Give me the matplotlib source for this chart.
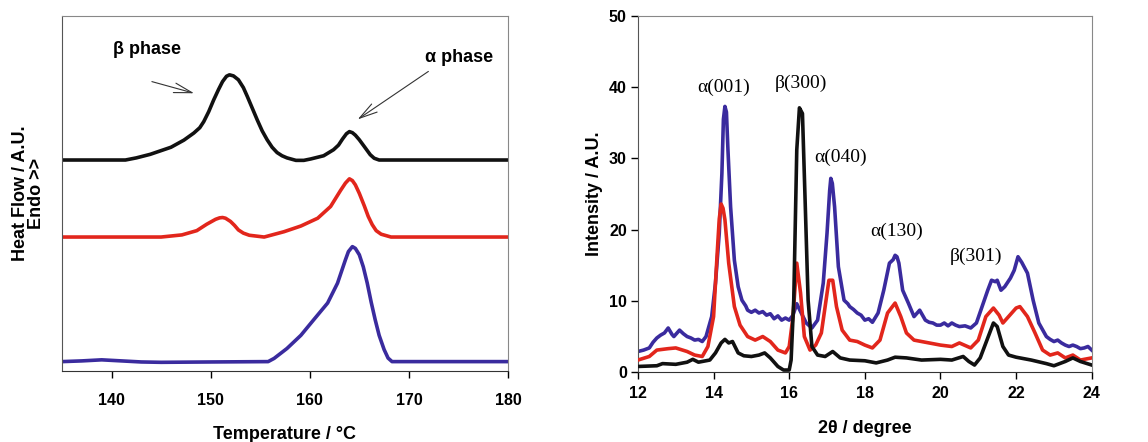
import numpy as np
import matplotlib
matplotlib.use("Agg")
import matplotlib.pyplot as plt

plt.rcParams['font.family'] = ['Liberation Sans', 'DejaVu Sans']

# DSC DATA (temperature in C, heat flow in arbitrary units, curves offset)
dsc_black_t = [135, 141.4, 142.5, 143.9, 146.0, 147.3, 148.3, 148.9, 149.3, 149.8,
               150.3, 150.8, 151.2, 151.6, 151.9, 152.3, 152.8, 153.3, 153.7, 154.2,
               154.7, 155.2, 155.7, 156.2, 156.7, 157.2, 157.7, 158.6, 159.4, 160.1,
               161.4, 162.4, 162.9, 163.3, 163.7, 164.0, 164.3, 164.6, 165.0, 165.5,
               166.1, 166.5, 167.0, 180]
dsc_black_v = [59.4, 59.4, 60.0, 61.0, 63.0, 65.0, 67.0, 68.5, 70.2, 73.0,
               76.3, 79.3, 81.5, 83.0, 83.4, 83.1, 82.0, 79.8, 77.3, 74.0,
               70.7, 67.6, 65.1, 63.0, 61.5, 60.6, 60.0, 59.3, 59.3, 59.7,
               60.6, 62.3, 63.6, 65.3, 66.8, 67.4, 67.1, 66.4, 65.1, 63.2,
               60.9, 59.9, 59.4, 59.4]

dsc_red_t = [135, 145.0, 147.1, 148.6, 149.6, 150.5, 150.9, 151.2, 151.5, 152.0,
             152.4, 152.8, 153.3, 153.9, 155.4, 157.4, 159.1, 160.8, 162.1, 163.1,
             163.6, 164.0, 164.3, 164.6, 165.0, 165.5, 165.9, 166.3, 166.7, 167.2,
             168.2, 180]
dsc_red_v = [37.7, 37.7, 38.3, 39.5, 41.3, 42.7, 43.1, 43.2, 43.0, 42.1,
             41.0, 39.7, 38.8, 38.2, 37.7, 39.2, 40.8, 43.0, 46.3, 50.8,
             52.9, 54.1, 53.6, 52.4, 50.0, 46.5, 43.5, 41.2, 39.5, 38.5,
             37.7, 37.7]

dsc_blue_t = [135, 137.0, 139.0, 141.0, 143.0, 145.0, 150.0, 155.8, 156.4, 157.7,
              159.1, 160.4, 161.8, 162.8, 163.6, 163.9, 164.3, 164.6, 165.0, 165.4,
              165.8, 166.2, 166.6, 167.0, 167.5, 167.9, 168.3, 180]
dsc_blue_v = [2.6, 2.8, 3.1, 2.8, 2.5, 2.4, 2.5, 2.6, 3.5, 6.3,
              10.0, 14.4, 19.1, 24.7, 31.3, 33.6, 35.0, 34.5, 32.7, 29.3,
              24.7, 19.3, 14.4, 10.0, 6.0, 3.6, 2.6, 2.6]

# XRD DATA (2theta in degree, intensity in A.U.)
xrd_blue_x = [12.0, 12.15, 12.3, 12.4, 12.5, 12.6, 12.7, 12.8, 12.9, 12.95,
              13.05, 13.1, 13.2, 13.3, 13.4, 13.5, 13.6, 13.7, 13.8, 13.95,
              14.05, 14.15, 14.22, 14.26, 14.3, 14.34, 14.38, 14.45, 14.55, 14.65,
              14.75, 14.85, 14.9, 15.0, 15.1, 15.2, 15.3, 15.4, 15.5, 15.6,
              15.7, 15.8, 15.9, 16.0, 16.1, 16.2, 16.3, 16.45, 16.6, 16.75,
              16.9, 17.0, 17.07, 17.1, 17.14, 17.2, 17.3, 17.45, 17.55, 17.6,
              17.7, 17.8, 17.9, 18.0, 18.1, 18.2, 18.35, 18.5, 18.65, 18.75,
              18.8, 18.85, 18.9, 19.0, 19.15, 19.3, 19.45, 19.6, 19.7, 19.8,
              19.9, 20.0, 20.1, 20.2, 20.3, 20.4, 20.5, 20.65, 20.8, 20.95,
              21.1, 21.25, 21.35, 21.45, 21.5, 21.6, 21.7, 21.85, 21.95, 22.05,
              22.15, 22.3, 22.45, 22.6, 22.8, 22.9, 23.0, 23.1, 23.2, 23.3,
              23.4, 23.5, 23.6, 23.7, 23.8, 23.9, 24.0]
xrd_blue_y = [2.9, 3.1, 3.4, 4.2, 4.8, 5.2, 5.5, 6.2, 5.3, 5.0,
              5.6, 5.9, 5.4, 5.0, 4.8, 4.5, 4.6, 4.3, 5.0, 7.8,
              12.5, 19.5, 27.9, 35.5, 37.3, 36.5, 31.2, 23.2, 15.7, 12.0,
              10.1, 9.3, 8.7, 8.4, 8.7, 8.3, 8.5, 8.0, 8.2, 7.5,
              7.9, 7.3, 7.6, 7.3, 8.0, 9.6, 8.5, 6.9, 6.2, 7.3,
              12.5, 19.5, 25.5, 27.2, 26.5, 23.2, 14.8, 10.1, 9.6, 9.2,
              8.8, 8.3, 8.0, 7.3, 7.5, 7.0, 8.3, 11.5, 15.3, 15.8,
              16.4, 16.2, 15.3, 11.5, 9.7, 7.8, 8.7, 7.3, 7.0, 6.9,
              6.6, 6.6, 6.9, 6.5, 6.9, 6.6, 6.4, 6.5, 6.2, 6.9,
              9.2, 11.5, 12.9, 12.7, 12.9, 11.5, 12.0, 13.2, 14.3, 16.2,
              15.4, 13.9, 10.1, 6.9, 5.0, 4.6, 4.3, 4.5, 4.1, 3.8,
              3.6, 3.8, 3.6, 3.3, 3.4, 3.6, 3.1]

xrd_red_x = [12.0, 12.3, 12.5, 12.8, 13.0, 13.3, 13.5, 13.7, 13.85, 14.0,
             14.1, 14.15, 14.2, 14.25, 14.3, 14.4, 14.55, 14.7, 14.9, 15.1,
             15.3, 15.5, 15.7, 15.9, 16.0, 16.1, 16.2, 16.3, 16.4, 16.55,
             16.7, 16.85, 16.95, 17.05, 17.15, 17.25, 17.4, 17.6, 17.8, 18.0,
             18.2, 18.4, 18.6, 18.8, 18.95, 19.1, 19.3, 19.5, 19.7, 20.0,
             20.3, 20.5, 20.8, 21.0, 21.2, 21.4, 21.55, 21.65, 21.8, 22.0,
             22.1, 22.3, 22.5, 22.7, 22.9, 23.1, 23.3, 23.5, 23.7, 24.0]
xrd_red_y = [1.7, 2.2, 3.1, 3.3, 3.4, 2.9, 2.4, 2.2, 3.6, 7.8,
             17.1, 21.5, 23.6, 23.0, 21.4, 15.3, 9.2, 6.6, 5.0, 4.5,
             5.0, 4.3, 3.1, 2.7, 3.6, 7.8, 15.3, 11.1, 5.0, 3.1,
             3.8, 5.5, 9.2, 12.9, 12.9, 9.2, 5.9, 4.5, 4.3, 3.8,
             3.4, 4.5, 8.3, 9.7, 7.8, 5.5, 4.5, 4.3, 4.1, 3.8,
             3.6, 4.1, 3.4, 4.5, 7.8, 9.0, 8.0, 6.9, 7.8, 9.0,
             9.2, 7.8, 5.5, 3.1, 2.4, 2.7, 2.0, 2.4, 1.7, 2.0]

xrd_black_x = [12.0, 12.5, 12.65, 13.0, 13.3, 13.45, 13.6, 13.9, 14.05, 14.2,
               14.3, 14.4, 14.5, 14.65, 14.8, 15.0, 15.2, 15.35, 15.5, 15.7,
               15.85, 16.0, 16.05, 16.12, 16.2, 16.27, 16.35, 16.42, 16.5, 16.6,
               16.75, 16.95, 17.15, 17.35, 17.6, 18.0, 18.3, 18.6, 18.8, 19.1,
               19.5, 20.0, 20.3, 20.6, 20.75, 20.9, 21.05, 21.2, 21.4, 21.5,
               21.65, 21.8, 22.0, 22.4, 22.8, 23.0, 23.3, 23.5, 23.7, 24.0]
xrd_black_y = [0.8, 0.9, 1.2, 1.1, 1.4, 1.8, 1.4, 1.7, 2.7, 4.1,
               4.6, 4.1, 4.3, 2.7, 2.3, 2.2, 2.4, 2.7, 2.0, 0.8,
               0.3, 0.3, 1.7, 10.1, 31.2, 37.1, 36.3, 24.2, 10.1, 3.6,
               2.4, 2.2, 2.9, 2.0, 1.7, 1.6, 1.3, 1.7, 2.1, 2.0,
               1.7, 1.8, 1.7, 2.2, 1.5, 1.0, 2.0, 4.1, 6.9, 6.4,
               3.6, 2.4, 2.1, 1.7, 1.2, 0.9, 1.5, 2.0, 1.5, 1.0]

peak_labels = ["\u03b1(001)", "\u03b2(300)", "\u03b1(040)", "\u03b1(130)", "\u03b2(301)"]
peak_label_x = [14.26, 16.3, 17.37, 18.83, 20.94]
peak_label_y = [40.0, 40.5, 30.2, 19.7, 16.2]

BLACK = "#111111"
RED = "#e2261c"
BLUE = "#3a2b9e"

fig = plt.figure(figsize=(11.48, 4.42), dpi=100)
ax1 = fig.add_axes([0.054, 0.161, 0.3885, 0.803])
ax2 = fig.add_axes([0.5557, 0.158, 0.3953, 0.806])

# LEFT: DSC
for t, v, c in [(dsc_black_t, dsc_black_v, BLACK),
                (dsc_red_t, dsc_red_v, RED),
                (dsc_blue_t, dsc_blue_v, BLUE)]:
    ax1.plot(t, v, color=c, lw=2.6, solid_joinstyle='round')
ax1.set_xlim(135, 180)
ax1.set_ylim(0, 100)
ax1.set_yticks([])
ax1.set_xticks([140, 150, 160, 170, 180])
ax1.set_ylabel("Heat Flow / A.U.\nEndo >>", fontsize=13, fontweight='bold',
               linespacing=0.95, labelpad=12)

ax1.text(140.1, 90.4, "\u03b2 phase", fontsize=13, fontweight='bold',
         ha='left', va='center')
ax1.text(171.6, 88.2, "\u03b1 phase", fontsize=13, fontweight='bold',
         ha='left', va='center')
arrow_style = dict(arrowstyle='->,head_length=1.3,head_width=0.35', lw=0.8, color='#333333')
ax1.annotate("", xy=(148.6, 78.0), xytext=(143.8, 81.7), arrowprops=arrow_style)
ax1.annotate("", xy=(164.6, 70.4), xytext=(172.2, 84.8), arrowprops=arrow_style)

# RIGHT: XRD
ax2.plot(xrd_black_x, xrd_black_y, color=BLACK, lw=2.6, zorder=4, solid_joinstyle='round')
ax2.plot(xrd_red_x, xrd_red_y, color=RED, lw=2.6, zorder=3, solid_joinstyle='round')
ax2.plot(xrd_blue_x, xrd_blue_y, color=BLUE, lw=2.6, zorder=2, solid_joinstyle='round')
ax2.set_xlim(12, 24)
ax2.set_ylim(0, 50)
ax2.set_xticks(np.arange(12, 25, 2))
ax2.set_yticks(np.arange(0, 51, 10))
for lab, x, y in zip(peak_labels, peak_label_x, peak_label_y):
    ax2.text(x, y, lab, fontsize=14, family=['Liberation Serif', 'DejaVu Serif'],
             ha='center', va='center')

for ax in (ax1, ax2):
    for side in ('top', 'right'):
        ax.spines[side].set_color('#888888')
        ax.spines[side].set_linewidth(0.8)
    ax.spines['left'].set_color('#555555')
    ax.spines['bottom'].set_color('#333333')
    ax.tick_params(direction='out', length=5, width=1, labelsize=11.5, pad=5)
    for t in ax.get_xticklabels() + ax.get_yticklabels():
        t.set_fontweight('bold')

ax1.tick_params(axis='x', pad=11)
ax2.tick_params(axis='y', pad=3)
ax1.set_xlabel("Temperature / \u00b0C", fontsize=13, fontweight='bold', labelpad=13)
ax2.set_xlabel("2\u03b8 / degree", fontsize=13, fontweight='bold', labelpad=14)
ax2.set_ylabel("Intensity / A.U.", fontsize=13, fontweight='bold', labelpad=4)

fig.savefig("out.png", dpi=100)
